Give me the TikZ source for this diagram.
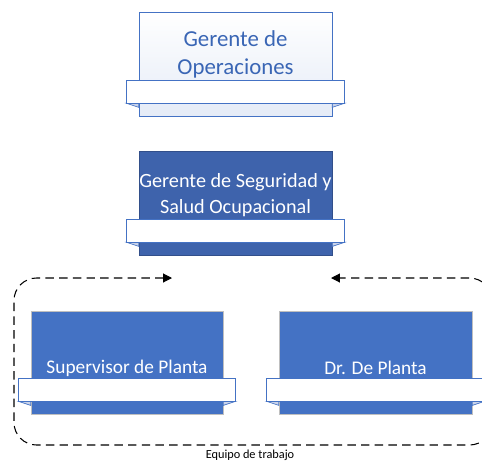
\documentclass[tikz,border=0pt]{standalone}
\usepackage{fontspec}
\setmainfont{Carlito}
\usetikzlibrary{positioning,arrows.meta}
\definecolor{azul}{HTML}{4472C4}
\definecolor{azuloscuro}{HTML}{3E63AC}
\definecolor{textoazul}{HTML}{3A66B5}
\definecolor{pliegue}{HTML}{C9D3EA}
\newcommand{\cinta}[1]{%
	\draw[draw = azul, fill = pliegue] ([shift = {(-0.24cm, 0.26cm)}]#1.south west) -- ([shift = {(0, 0.26cm)}]#1.south west) -- ([shift = {(0, 0.18cm)}]#1.south west) -- cycle;
	\draw[draw = azul, fill = pliegue] ([shift = {(0.24cm, 0.26cm)}]#1.south east) -- ([shift = {(0, 0.26cm)}]#1.south east) -- ([shift = {(0, 0.18cm)}]#1.south east) -- cycle;
	\draw[draw = azul, fill = white] ([shift = {(-0.24cm, 0.26cm)}]#1.south west) rectangle ([shift = {(0.24cm, 0.72cm)}]#1.south east);
}
\begin{document}
\begin{tikzpicture}[x = 0.02cm, y = -0.02cm,
		caja/.style = {rectangle, minimum width = 3.86cm, minimum height = 2.08cm, inner sep = 0pt},
		texto/.style = {align = center, inner sep = 0pt}]
	\useasboundingbox (0, 0) rectangle (482, 463);
	\clip (0, 0) rectangle (482, 463);
	% gerente de operaciones
	\node[caja, draw = azul, top color = white, bottom color = azul!14] (gop) at (235.5, 64) {};
	\cinta{gop}
	\node[texto, font = \fontsize{13}{15.5}\selectfont, text = textoazul] (tgop) at ([yshift = 0.19cm]gop.center) {Gerente de\\Operaciones};
	% gerente de seguridad
	\node[caja, draw = azuloscuro!80!black, fill = azuloscuro] (gss) at (235.5, 203) {};
	\cinta{gss}
	\node[texto, font = \fontsize{11.5}{15}\selectfont, text = white] (tgss) at ([yshift = 0.16cm]gss.center) {Gerente de Seguridad y\\Salud Ocupacional};
	% equipo de trabajo
	\node[caja, draw = black!25, fill = azul, minimum width = 3.84cm, minimum height = 2.06cm] (sup) at (127, 362.5) {};
	\cinta{sup}
	\node[texto, font = \fontsize{11}{13}\selectfont, text = white] (tsup) at ([yshift = -0.11cm]sup.center) {Supervisor de Planta};
	\node[caja, draw = black!25, fill = azul, minimum width = 3.86cm, minimum height = 2.06cm] (dr) at (375.5, 362.5) {};
	\cinta{dr}
	\node[texto, font = \fontsize{11}{13}\selectfont, text = white] (tdr) at ([yshift = -0.11cm]dr.center) {Dr. De Planta};
	\coordinate (fi) at (172, 278);
	\coordinate (fd) at (331, 278);
	\draw[{Triangle[length = 5pt, width = 5pt]}-{Triangle[length = 5pt, width = 5pt]}, line width = 0.6pt, dash pattern = on 4.8pt off 3pt, rounded corners = 0.45cm]
		(fi) -- (14, 278) -- (14, 445) -- (492, 445) -- (492, 278) -- (fd);
	\node[texto, font = \fontsize{7}{8}\selectfont] (equipo) at (250, 455) {Equipo de trabajo};
\end{tikzpicture}
\end{document}
